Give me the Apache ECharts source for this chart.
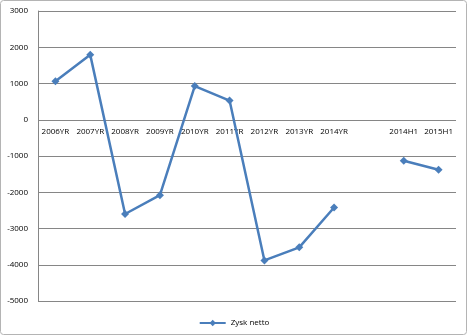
<!DOCTYPE html>
<html><head><meta charset="utf-8">
<script src="https://cdn.jsdelivr.net/npm/echarts@6/dist/echarts.min.js"></script>
<style>html,body{margin:0;padding:0;background:#fff}#c{width:468px;height:336px}</style>
</head><body><div id="c"></div>
<script>
var categories = ['2006YR','2007YR','2008YR','2009YR','2010YR','2011YR','2012YR','2013YR','2014YR','','2014H1','2015H1'];
var zyskNetto = [1060, 1790, -2600, -2080, 930, 530, -3880, -3520, -2420, null, -1130, -1380];
var seriesName = 'Zysk netto';
var yMin = -5000, yMax = 3000, yStep = 1000;

var gridTop = 11, gridBottom = 35, H = 336;
var plotH = H - gridTop - gridBottom;
var zeroOffset = -plotH * (0 - yMin) / (yMax - yMin);

var chart = echarts.init(document.getElementById('c'));
chart.setOption({
  animation: false,
  backgroundColor: '#fff',
  graphic: [{type:'rect', shape:{x:0.5,y:0.5,width:466,height:334,r:3}, style:{fill:'none', stroke:'#b4b4b4', lineWidth:1}, silent:true}],
  grid: {left:38, right:12, top:gridTop, bottom:gridBottom},
  legend: {top:314, left:'center', itemWidth:26, itemHeight:8, itemGap:4,
    textStyle:{fontFamily:'Open Sans', fontSize:8, color:'#000'},
    data:[seriesName]},
  xAxis: {type:'category', data:categories, boundaryGap:true, position:'bottom', offset:zeroOffset,
    axisLine:{show:false, onZero:false}, axisTick:{show:false},
    axisLabel:{interval:0, color:'#000', fontFamily:'Open Sans', fontSize:8, margin:8},
    splitLine:{show:false}},
  yAxis: {type:'value', min:yMin, max:yMax, interval:yStep,
    axisLine:{show:true, lineStyle:{color:'#868686', width:1}}, axisTick:{show:false},
    axisLabel:{color:'#000', fontFamily:'Open Sans', fontSize:8, margin:10, formatter:function(v){return String(v);}},
    splitLine:{lineStyle:{color:'#868686', width:1}}},
  series: [{name:seriesName, type:'line', data:zyskNetto, connectNulls:false,
    symbol:'diamond', symbolSize:8,
    lineStyle:{color:'#4a7ebb', width:2.5},
    itemStyle:{color:'#4a7ebb'}}]
});
</script></body></html>
